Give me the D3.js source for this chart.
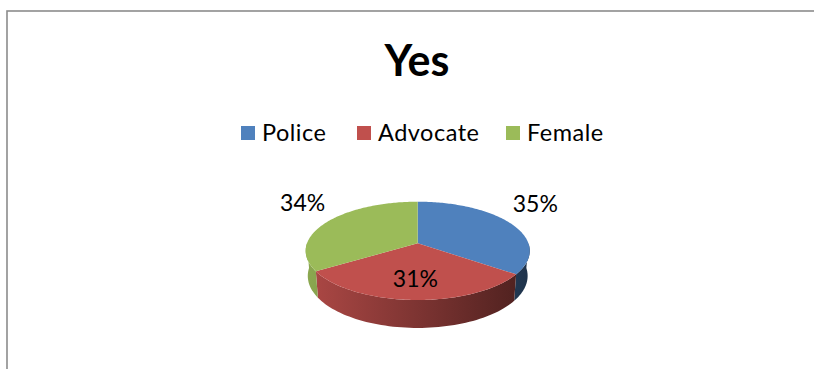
<!DOCTYPE html>
<html>
<head>
<meta charset="utf-8">
<script src="https://cdn.jsdelivr.net/npm/d3@7/dist/d3.min.js"></script>
<style>
  html, body { margin: 0; padding: 0; background: #fff; }
  svg { display: block; font-family: Lato, "Open Sans", sans-serif; }
</style>
</head>
<body>
<svg id="chart" width="814" height="369"></svg>
<script>
// Chart data
const title = "Yes";
const categories = ["Police", "Advocate", "Female"];
const values = [35, 31, 34];
const colors = ["#4F81BD", "#C0504D", "#9BBB59"];

const W = 814, H = 369;
const svg = d3.select("#chart");

// Chart frame
svg.append("rect")
  .attr("x", 7).attr("y", 11)
  .attr("width", W + 20).attr("height", H + 20)
  .attr("fill", "#fff")
  .attr("stroke", "#8c8c8c").attr("stroke-width", 1.6);

// Title
svg.append("text")
  .attr("x", 417).attr("y", 76)
  .attr("text-anchor", "middle")
  .attr("font-size", 43).attr("font-weight", 700)
  .attr("fill", "#000")
  .text(title);

// Legend
const legendPos = [241, 357, 506];
const lg = svg.append("g").selectAll("g").data(categories).join("g")
  .attr("transform", (d, i) => `translate(${legendPos[i]},0)`);
lg.append("rect").attr("x", 0).attr("y", 126).attr("width", 14).attr("height", 14)
  .attr("fill", (d, i) => colors[i]);
lg.append("text").attr("x", 21).attr("y", 141)
  .attr("font-size", 23.5).attr("letter-spacing", 0.5)
  .attr("fill", "#000").text(d => d);

// 3D pie projection
const cx = 417.7, cy = 243.3;     // screen position of pie centre
const R = 110.7;                  // radius
const phi = 25.7 * Math.PI / 180; // elevation angle
const Dcam = 650;                 // camera distance
const depth = 28;                 // slab thickness

function project(theta, r, yUp) {
  const X = r * Math.sin(theta);
  const Z = r * Math.cos(theta);            // positive = towards the back
  const yc = yUp * Math.cos(phi) + Z * Math.sin(phi);
  const zc = Z * Math.cos(phi) - yUp * Math.sin(phi);
  const s = Dcam / (Dcam + zc);
  return [cx + X * s, cy - yc * s];
}

const pie = d3.pie().sort(null).value(d => d)(values);

// Side shading: light on the left, deep shadow on the right
const defs = svg.append("defs");
pie.forEach((p, i) => {
  const base = d3.color(colors[i]);
  const g = defs.append("linearGradient")
    .attr("id", "side" + i)
    .attr("gradientUnits", "userSpaceOnUse")
    .attr("x1", cx - R).attr("x2", cx + R).attr("y1", 0).attr("y2", 0);
  g.append("stop").attr("offset", 0).attr("stop-color", base.darker(0.3));
  g.append("stop").attr("offset", 0.5).attr("stop-color", base.darker(1.2));
  g.append("stop").attr("offset", 1).attr("stop-color", base.darker(2.6));
});

function arcPts(a0, a1, r, yUp, n) {
  const pts = [];
  for (let k = 0; k <= n; k++) pts.push(project(a0 + (a1 - a0) * k / n, r, yUp));
  return pts;
}
const line = d3.line();

// Outer walls (front half only)
const gSides = svg.append("g");
pie.forEach((p, i) => {
  const a0 = Math.max(p.startAngle, Math.PI / 2);
  const a1 = Math.min(p.endAngle, Math.PI * 3 / 2);
  if (a1 <= a0) return;
  const top = arcPts(a0, a1, R, 0, 60);
  const bot = arcPts(a0, a1, R, -depth, 60).reverse();
  gSides.append("path")
    .attr("d", line(top.concat(bot)) + "Z")
    .attr("fill", `url(#side${i})`);
});

// Top faces
const gTop = svg.append("g");
pie.forEach((p, i) => {
  const pts = [project(0, 0, 0)].concat(arcPts(p.startAngle, p.endAngle, R, 0, 120));
  gTop.append("path")
    .attr("d", line(pts) + "Z")
    .attr("fill", colors[i]);
});

// Data labels
pie.forEach((p, i) => {
  const mid = (p.startAngle + p.endAngle) / 2;
  const inside = Math.cos(mid) < -0.9;
  const pos = inside ? project(mid, R * 0.6, 0) : project(mid, R * 1.3, 0);
  svg.append("text")
    .attr("x", pos[0])
    .attr("y", pos[1] + (inside ? 4 : -13))
    .attr("dy", "0.35em")
    .attr("text-anchor", "middle")
    .attr("font-size", 23)
    .attr("fill", "#000")
    .text(values[i] + "%");
});
</script>
</body>
</html>
